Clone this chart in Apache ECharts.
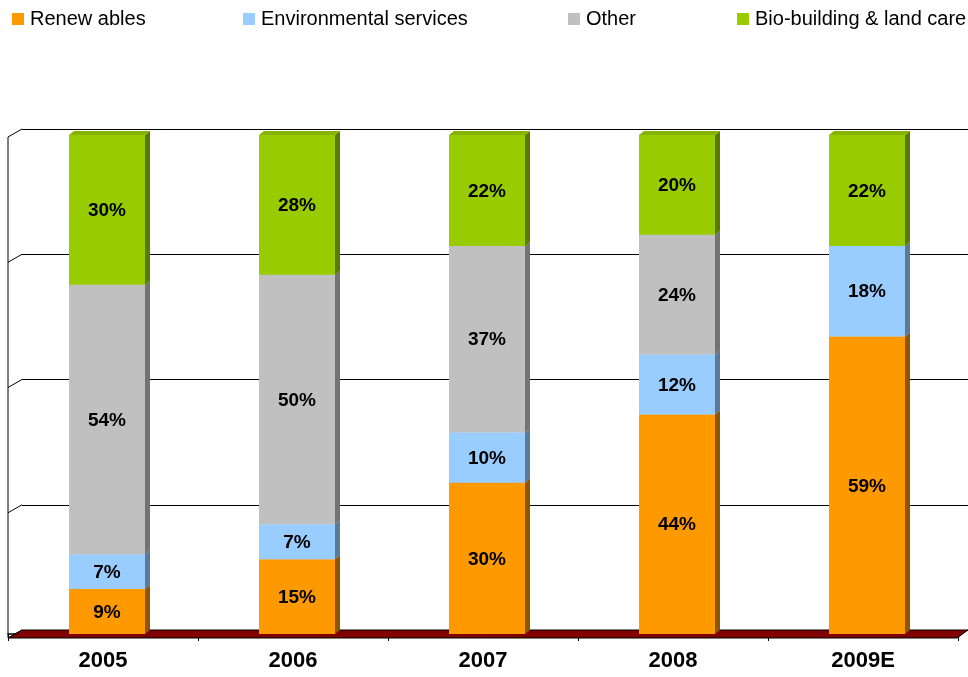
<!DOCTYPE html>
<html><head><meta charset="utf-8">
<script src="https://cdn.jsdelivr.net/npm/echarts@6/dist/echarts.min.js"></script>
<style>html,body{margin:0;padding:0;background:#fff}#c{width:968px;height:677px}</style>
</head><body><div id="c"></div>
<script>
const categories = ['2005','2006','2007','2008','2009E'];
const seriesNames = ['Renew ables','Environmental services','Other','Bio-building & land care'];
const renewables = [9,15,30,44,59];
const environmental = [7,7,10,12,18];
const other = [54,50,37,24,0];
const bioBuilding = [30,28,22,20,22];
const valueTicks = [0,25,50,75,100];

const frontColors = ['#FF9900','#99CCFF','#C0C0C0','#99CC00'];
const sideColors = ['#8F5500','#5B7A99','#737373','#5B7A00'];
const topColors = ['#E08700','#87B4E0','#A9A9A9','#86B300'];
const FONT = '"Liberation Sans", Arial, sans-serif';

const allSeries = [renewables, environmental, other, bioBuilding];
const totals = categories.map((_, i) => allSeries.reduce((s, arr) => s + arr[i], 0));
const cum = categories.map(() => 0);
const stackedData = allSeries.map(arr => arr.map((v, i) => {
  const start = cum[i];
  cum[i] += v / totals[i] * 100;
  return [i, start, cum[i], v];
}));

const DX = 5, DY = 4;
function renderItem(sIdx) {
  return function (params, api) {
    const idx = api.value(0), start = api.value(1), end = api.value(2), raw = api.value(3);
    if (!(end - start > 0)) return null;
    const bottom = api.coord([idx, start]);
    const top = api.coord([idx, end]);
    const band = api.size([1, 0])[0];
    const w = band * 0.4;
    const cx = bottom[0] + 4;
    const x0 = cx - w / 2, x1 = cx + w / 2;
    const yb = bottom[1], yt = top[1];
    return {
      type: 'group', children: [
        { type: 'polygon', shape: { points: [[x1, yb], [x1 + DX, yb - DY], [x1 + DX, yt - DY], [x1, yt]] }, style: { fill: sideColors[sIdx] } },
        { type: 'polygon', shape: { points: [[x0, yt], [x0 + DX, yt - DY], [x1 + DX, yt - DY], [x1, yt]] }, style: { fill: topColors[sIdx] } },
        { type: 'rect', shape: { x: x0, y: yt, width: w, height: yb - yt }, style: { fill: frontColors[sIdx] } },
        { type: 'text', x: (x0 + x1) / 2, y: (yt + yb) / 2 + 1, style: { text: raw + '%', font: 'bold 19px ' + FONT, fill: '#000', align: 'center', verticalAlign: 'middle' } }
      ]
    };
  };
}

const legendLefts = [12, 243, 568, 737];
const chart = echarts.init(document.getElementById('c'), null, { renderer: 'canvas' });
chart.setOption({
  animation: false,
  backgroundColor: '#fff',
  legend: seriesNames.map((n, i) => ({
    data: [n], left: legendLefts[i], top: 9, icon: 'rect', itemWidth: 12, itemHeight: 12,
    itemGap: 0, padding: 0, selectedMode: false,
    textStyle: { fontFamily: FONT, fontSize: 20, color: '#000', padding: [0, 0, 0, 1] }
  })),
  grid: [
    { left: 8, right: 10, top: 135, bottom: 43 },
    { left: 22, width: 960, top: 129, bottom: 47 }
  ],
  xAxis: [
    { type: 'category', gridIndex: 0, data: categories, boundaryGap: true, offset: 4,
      axisLine: { lineStyle: { color: '#000', width: 1.5 } },
      axisTick: { show: true, length: 7, lineStyle: { color: '#000' } },
      axisLabel: { fontFamily: FONT, fontSize: 22, fontWeight: 'bold', color: '#000', margin: 12 } },
    { type: 'category', gridIndex: 1, data: categories, show: false }
  ],
  yAxis: [
    { type: 'value', gridIndex: 0, min: 0, max: 100, show: false },
    { type: 'value', gridIndex: 1, min: 0, max: 100, interval: 25,
      axisLine: { show: false }, axisTick: { show: false }, axisLabel: { show: false },
      splitLine: { show: true, lineStyle: { color: '#000', width: 1 } } }
  ],
  series: seriesNames.map((n, i) => ({
    type: 'custom', name: n, xAxisIndex: 0, yAxisIndex: 0, clip: false, z: 3,
    itemStyle: { color: frontColors[i] },
    encode: { x: 0, y: [1, 2] },
    data: stackedData[i],
    renderItem: renderItem(i)
  }))
});

const ys = valueTicks.map(v => chart.convertToPixel({ yAxisIndex: 1 }, v));
const backLeft = 22, frontLeft = 8, frontY = 638;
const depthY = frontY - ys[0];
const graphics = [];
graphics.push({ type: 'polygon', z: 1, shape: { points: [[frontLeft, frontY], [backLeft, ys[0]], [968, ys[0]], [957, frontY]] },
  style: { fill: '#800000', stroke: '#000', lineWidth: 1 } });
ys.forEach(y => {
  graphics.push({ type: 'line', z: 1, shape: { x1: frontLeft, y1: y + depthY, x2: backLeft, y2: y }, style: { stroke: '#000', lineWidth: 1 } });
});
graphics.push({ type: 'line', z: 1, shape: { x1: frontLeft, y1: ys[ys.length - 1] + depthY, x2: frontLeft, y2: frontY }, style: { stroke: '#000', lineWidth: 1 } });
chart.setOption({ graphic: graphics });
</script></body></html>
